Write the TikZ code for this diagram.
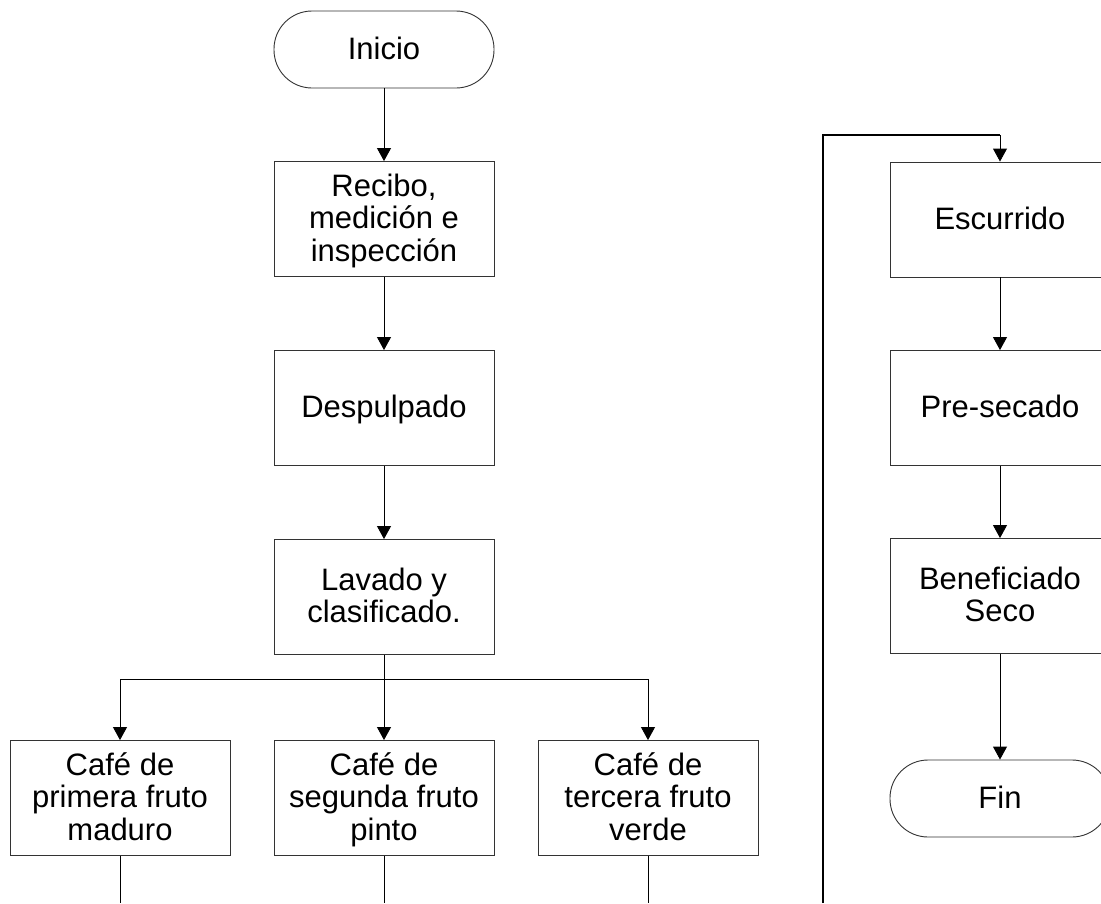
\documentclass[tikz,border=0pt]{standalone}
\usepackage{fontspec}
\setmainfont{Liberation Sans}
\usetikzlibrary{arrows.meta}
\begin{document}
\begin{tikzpicture}[x=1pt,y=-1pt,
  box/.style={draw=black!80,line width=0.9pt,minimum width=220pt,minimum height=115pt,inner sep=0pt,align=center,text depth=3pt,font=\fontsize{31}{32.5}\selectfont},
  term/.style={draw=black!80,line width=0.9pt,rounded corners=38pt,minimum width=220pt,minimum height=77pt,inner sep=0pt,align=center,text depth=3pt,font=\fontsize{31}{32.5}\selectfont},
  conn/.style={draw=black,line width=0.9pt},
  arr/.style={conn,-{Triangle[width=14pt,length=13pt]}},
  thickline/.style={draw=black,line width=1.8pt}]
\clip (0,0) rectangle (1101,903);
\fill[white] (0,0) rectangle (1101,903);
% left column
\node[term] (inicio) at (384,49.5) {Inicio};
\node[box] (recibo) at (384,219) {Recibo,\\medición e\\inspección};
\node[box] (despulpado) at (384,408) {Despulpado};
\node[box] (lavado) at (384,597) {Lavado y\\clasificado.};
\node[box] (c1) at (120,798) {Café de\\primera fruto\\maduro};
\node[box] (c2) at (384,798) {Café de\\segunda fruto\\pinto};
\node[box] (c3) at (648,798) {Café de\\tercera fruto\\verde};
\coordinate (br) at (384,679);
\coordinate (e1) at (120,903);
\coordinate (e2) at (384,903);
\coordinate (e3) at (648,903);
\draw[arr] (inicio) -- (recibo);
\draw[arr] (recibo) -- (despulpado);
\draw[arr] (despulpado) -- (lavado);
\draw[conn] (lavado) -- (br);
\draw[arr] (br) -| (c1);
\draw[arr] (br) -- (c2);
\draw[arr] (br) -| (c3);
\draw[conn] (c1) -- (e1);
\draw[conn] (c2) -- (e2);
\draw[conn] (c3) -- (e3);
% right column
\node[box] (escurrido) at (1000,219.5) {Escurrido};
\node[box] (presecado) at (1000,408) {Pre-secado};
\node[box] (benef) at (1000,596) {Beneficiado\\Seco};
\node[term] (fin) at (1000,798.5) {Fin};
\coordinate (ls) at (823,903);
\coordinate (lt) at (823,135);
\coordinate (rt) at (1000,135);
\draw[thickline] (ls) -- (lt) -- (rt);
\draw[arr] (rt) -- (escurrido);
\draw[arr] (escurrido) -- (presecado);
\draw[arr] (presecado) -- (benef);
\draw[arr] (benef) -- (fin);
\end{tikzpicture}
\end{document}
